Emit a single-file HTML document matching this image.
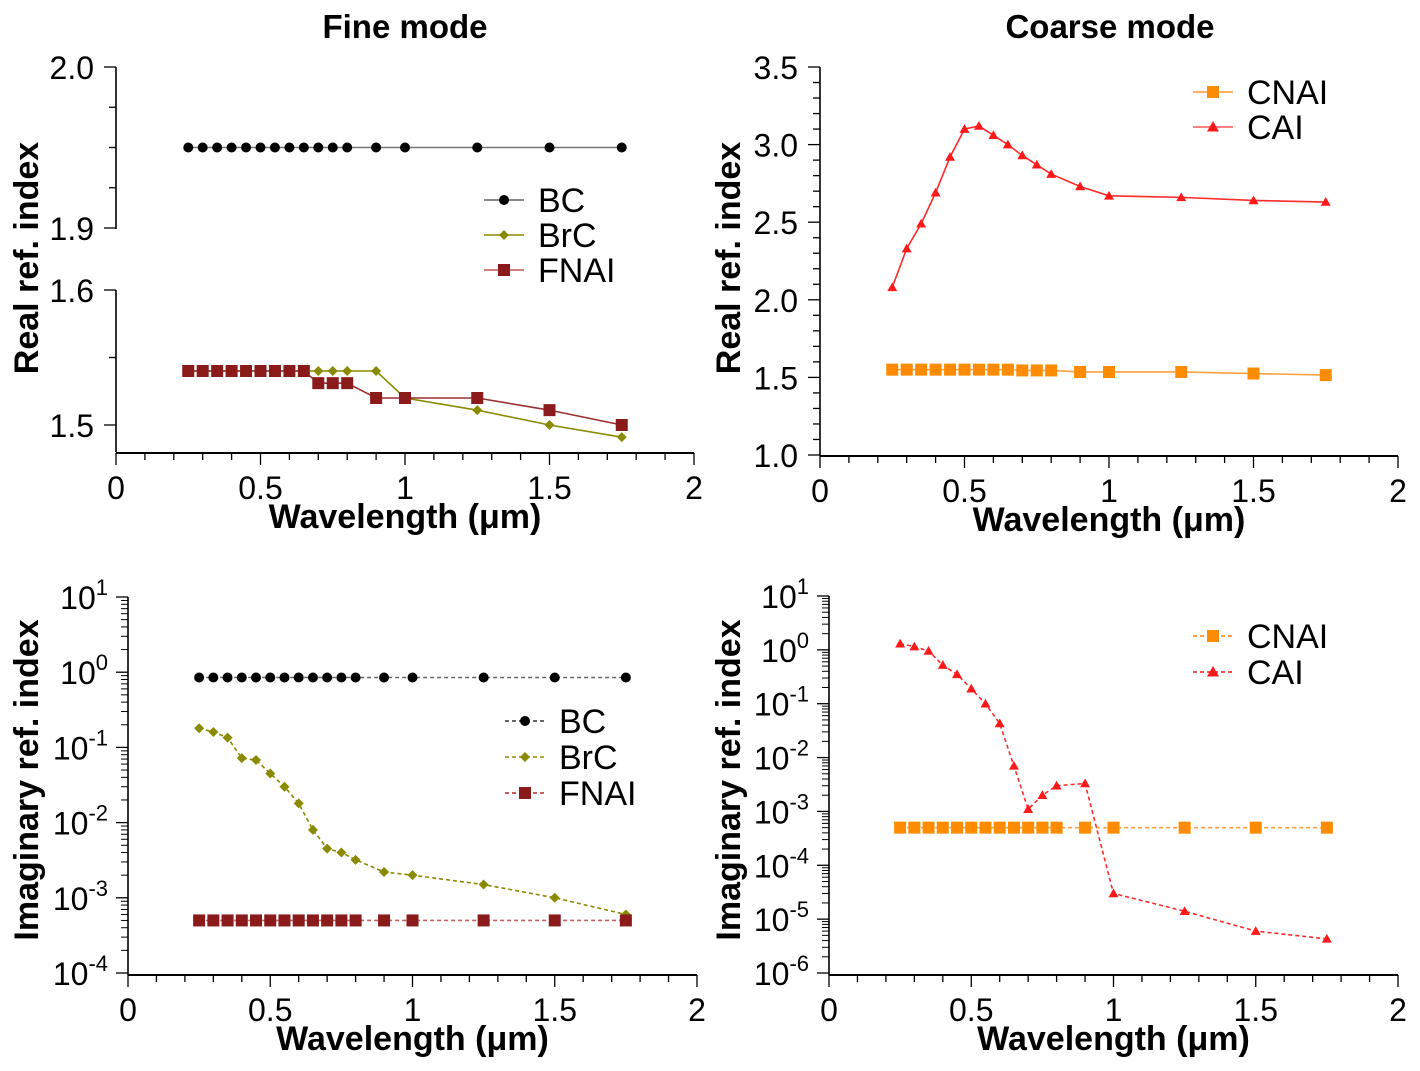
<!DOCTYPE html>
<html><head><meta charset="utf-8">
<style>
html,body{margin:0;padding:0;background:#fff;}
svg{display:block;font-family:"Liberation Sans",Arial,sans-serif;}
</style></head>
<body>
<svg id="fig" width="1420" height="1071" viewBox="0 0 1420 1071" xmlns="http://www.w3.org/2000/svg">
<text x="405" y="38" font-size="33" font-weight="bold" text-anchor="middle">Fine mode</text>
<text x="1110" y="38" font-size="33" font-weight="bold" text-anchor="middle">Coarse mode</text>
</svg>
<script>
const wl = [0.25,0.3,0.35,0.4,0.45,0.5,0.55,0.6,0.65,0.7,0.75,0.8,0.9,1.0,1.25,1.5,1.75];
const bcReal   = [1.95,1.95,1.95,1.95,1.95,1.95,1.95,1.95,1.95,1.95,1.95,1.95,1.95,1.95,1.95,1.95,1.95];
const brcReal  = [1.54,1.54,1.54,1.54,1.54,1.54,1.54,1.54,1.54,1.54,1.54,1.54,1.54,1.52,1.511,1.5,1.491];
const fnaiReal = [1.54,1.54,1.54,1.54,1.54,1.54,1.54,1.54,1.54,1.531,1.531,1.531,1.52,1.52,1.52,1.511,1.5];
const cnaiReal = [1.55,1.55,1.55,1.55,1.55,1.55,1.55,1.55,1.55,1.545,1.545,1.545,1.535,1.535,1.535,1.525,1.515];
const caiReal  = [2.08,2.33,2.49,2.69,2.92,3.10,3.12,3.06,3.00,2.93,2.87,2.81,2.73,2.67,2.66,2.64,2.63];
const bcImag   = [0.85,0.85,0.85,0.85,0.85,0.85,0.85,0.85,0.85,0.85,0.85,0.85,0.85,0.85,0.85,0.85,0.85];
const brcImag  = [0.18,0.16,0.135,0.072,0.068,0.045,0.03,0.018,0.008,0.0045,0.004,0.0032,0.0022,0.002,0.0015,0.001,0.0006];
const fnaiImag = [0.0005,0.0005,0.0005,0.0005,0.0005,0.0005,0.0005,0.0005,0.0005,0.0005,0.0005,0.0005,0.0005,0.0005,0.0005,0.0005,0.0005];
const cnaiImag = [0.0005,0.0005,0.0005,0.0005,0.0005,0.0005,0.0005,0.0005,0.0005,0.0005,0.0005,0.0005,0.0005,0.0005,0.0005,0.0005,0.0005];
const caiImag  = [1.3,1.15,0.95,0.52,0.35,0.19,0.1,0.043,0.007,0.0011,0.002,0.003,0.0033,0.00003,0.000014,0.000006,0.0000043];
const xTicks = [0,0.5,1,1.5,2];
const xTickLabels = ["0","0.5","1","1.5","2"];

const svg = document.getElementById('fig');
const NS = 'http://www.w3.org/2000/svg';
function mk(tag, attrs, parent){const e=document.createElementNS(NS,tag);for(const k in attrs)e.setAttribute(k,attrs[k]);(parent||svg).appendChild(e);return e;}

function xAxis(p){
  const g=mk('g',{});
  
  
  mk('line',{x1:p.x0,x2:p.x1,y1:p.ay,y2:p.ay,stroke:'#000','stroke-width':2},g);
  for(let i=0;i<=20;i++){const v=i*0.1,x=p.sx(v);mk('line',{x1:x,x2:x,y1:p.ay,y2:p.ay+(i%5==0?12:7),stroke:'#000','stroke-width':1.3},g);}
  xTicks.forEach((v,i)=>{const t=mk('text',{x:p.sx(v),y:p.ay+46,'font-size':32,'text-anchor':'middle'},g);t.textContent=xTickLabels[i];});
  const t=mk('text',{x:(p.x0+p.x1)/2,y:p.ay+75,'font-size':34,'font-weight':'bold','text-anchor':'middle'},g);
  t.textContent='Wavelength (μm)';
  
  
}
function yTitle(p,txt,cy,off){
  const t=mk('text',{x:0,y:0,'font-size':34,'font-weight':'bold','text-anchor':'middle',transform:`translate(${p.x0-off},${cy}) rotate(-90)`});
  t.textContent=txt;
  
  
}
function series(p,name,ys,color,lineColor,marker,ms,dash,yf){
  const g=mk('g',{});
  
  
  const pts=wl.map((w,i)=>[p.sx(w),yf(ys[i])]);
  mk('polyline',{points:pts.map(q=>q.join(',')).join(' '),fill:'none',stroke:lineColor,'stroke-width':1.6,'stroke-dasharray':dash?'4,3':'none'},g);
  pts.forEach(q=>drawMarker(g,q[0],q[1],marker,ms,color));
}
function drawMarker(g,x,y,m,s,c){
  let e;
  if(m=='circle')e=mk('circle',{cx:x,cy:y,r:s,fill:c},g);
  else if(m=='square')e=mk('rect',{x:x-s,y:y-s,width:2*s,height:2*s,fill:c},g);
  else if(m=='diamond')e=mk('polygon',{points:`${x},${y-s} ${x+s},${y} ${x},${y+s} ${x-s},${y}`,fill:c},g);
  else e=mk('polygon',{points:`${x},${y-s} ${x+s},${y+s*0.75} ${x-s},${y+s*0.75}`,fill:c},g);
  
  
}
function legend(p,items,lx,ly,dash){
  const g=mk('g',{});
  
  
  items.forEach((it,i)=>{
    const y=ly+i*p.lstep;
    const e=mk('g',{},g);
    
    
    mk('line',{x1:lx,x2:lx+40,y1:y,y2:y,stroke:it[2],'stroke-width':2,'stroke-dasharray':dash?'4,3':'none'},e);
    drawMarker(e,lx+20,y,it[3],it[4]+1,it[1]);
    const t=mk('text',{x:lx+54,y:y+12,'font-size':34},e);t.textContent=it[0];
  });
}

// ---- Panel 1: fine real (broken axis)
(function(){
  const p={id:'fine-real',x0:116,x1:694,ay:453,lstep:35};
  p.sx=v=>p.x0+(p.x1-p.x0)*v/2;
  const yf=v=> v>=1.7 ? 228-(v-1.9)*1610 : 425-(v-1.5)*1350;
  const g=mk('g',{});
  
  
  mk('line',{x1:116,x2:116,y1:67,y2:229,stroke:'#000','stroke-width':1.6},g);
  mk('line',{x1:116,x2:116,y1:290,y2:452,stroke:'#000','stroke-width':1.6},g);
  [[1.9,1],[1.925,0],[1.95,0],[1.975,0],[2.0,1],[1.5,1],[1.55,0],[1.6,1]].forEach(a=>{const y=yf(a[0]);mk('line',{x1:116-(a[1]?12:7),x2:116,y1:y,y2:y,stroke:'#000','stroke-width':1.3},g);});
  [['2.0',2.0],['1.9',1.9],['1.6',1.6],['1.5',1.5]].forEach(a=>{const t=mk('text',{x:94,y:yf(a[1])+12,'font-size':32,'text-anchor':'end'},g);t.textContent=a[0];});
  xAxis(p);yTitle(p,'Real ref. index',258,78);
  series(p,'bc',bcReal,'#000','#777','circle',5,false,yf);
  series(p,'brc',brcReal,'#8a8a00','#8a8a00','diamond',5,false,yf);
  series(p,'fnai',fnaiReal,'#8b1a1a','#9b3030','square',6,false,yf);
  legend(p,[['BC','#000','#888','circle',4],['BrC','#8a8a00','#a8a840','diamond',4],['FNAI','#8b1a1a','#d08080','square',5]],484,200,false);
})();

// ---- Panel 2: coarse real
(function(){
  const p={id:'coarse-real',x0:820,x1:1398,ay:456,lstep:35};
  p.sx=v=>p.x0+(p.x1-p.x0)*v/2;
  const yf=v=>455-(v-1.0)*155.2;
  const g=mk('g',{});
  
  
  mk('line',{x1:820,x2:820,y1:67,y2:456,stroke:'#000','stroke-width':1.6},g);
  for(let i=0;i<=25;i++){const v=1+i*0.1,y=yf(v);mk('line',{x1:820-(i%5==0?12:7),x2:820,y1:y,y2:y,stroke:'#000','stroke-width':1.3},g);}
  ['1.0','1.5','2.0','2.5','3.0','3.5'].forEach(s=>{const t=mk('text',{x:798,y:yf(+s)+12,'font-size':32,'text-anchor':'end'},g);t.textContent=s;});
  xAxis(p);yTitle(p,'Real ref. index',258,80);
  series(p,'cnai',cnaiReal,'#ff8c00','#ffa040','square',6,false,yf);
  series(p,'cai',caiReal,'#ff1a1a','#ff2a2a','triangle',5,false,yf);
  legend(p,[['CNAI','#ff8c00','#ffb060','square',5],['CAI','#ff1a1a','#ff8080','triangle',5]],1193,92,false);
})();

// ---- log panels
function logPanel(id,x0,x1,yTop,yBot,decMax,decMin,title,off){
  const p={id:id,x0:x0,x1:x1,ay:yBot+2,lstep:36};
  p.sx=v=>p.x0+(p.x1-p.x0)*v/2;
  const per=(yBot-yTop)/(decMax-decMin);
  p.yf=v=>yTop+(decMax-Math.log10(v))*per;
  const g=mk('g',{});
  
  
  mk('line',{x1:x0,x2:x0,y1:yTop,y2:yBot+2,stroke:'#000','stroke-width':1.6},g);
  for(let d=decMin;d<=decMax;d++){
    const y=p.yf(Math.pow(10,d));
    mk('line',{x1:x0-12,x2:x0,y1:y,y2:y,stroke:'#000','stroke-width':1.3},g);
    const t=mk('text',{x:x0-20,y:y+12,'font-size':32,'text-anchor':'end'},g);
    t.textContent='10';
    const s=mk('tspan',{'font-size':22,dy:-14},t);s.textContent=String(d);
    if(d<decMax)for(let k=2;k<10;k++){const yy=p.yf(k*Math.pow(10,d));mk('line',{x1:x0-7,x2:x0,y1:yy,y2:yy,stroke:'#000','stroke-width':1},g);}
  }
  xAxis(p);yTitle(p,title,780,off);
  return p;
}
(function(){
  const p=logPanel('fine-imag',128,697,597,973,1,-4,'Imaginary ref. index',90);
  series(p,'bc',bcImag,'#000','#666','circle',5,true,p.yf);
  series(p,'brc',brcImag,'#8a8a00','#8a8a00','diamond',5,true,p.yf);
  series(p,'fnai',fnaiImag,'#8b1a1a','#c06060','square',6,true,p.yf);
  legend(p,[['BC','#000','#666','circle',4],['BrC','#8a8a00','#a8a840','diamond',4],['FNAI','#8b1a1a','#c06060','square',5]],505,721,true);
})();
(function(){
  const p=logPanel('coarse-imag',829,1398,596,973,1,-6,'Imaginary ref. index',89);
  series(p,'cnai',cnaiImag,'#ff8c00','#ffa040','square',6,true,p.yf);
  series(p,'cai',caiImag,'#ff1a1a','#ff2a2a','triangle',5,true,p.yf);
  legend(p,[['CNAI','#ff8c00','#ffa040','square',5],['CAI','#ff1a1a','#ff5050','triangle',5]],1193,636,true);
})();
</script>
</body></html>
